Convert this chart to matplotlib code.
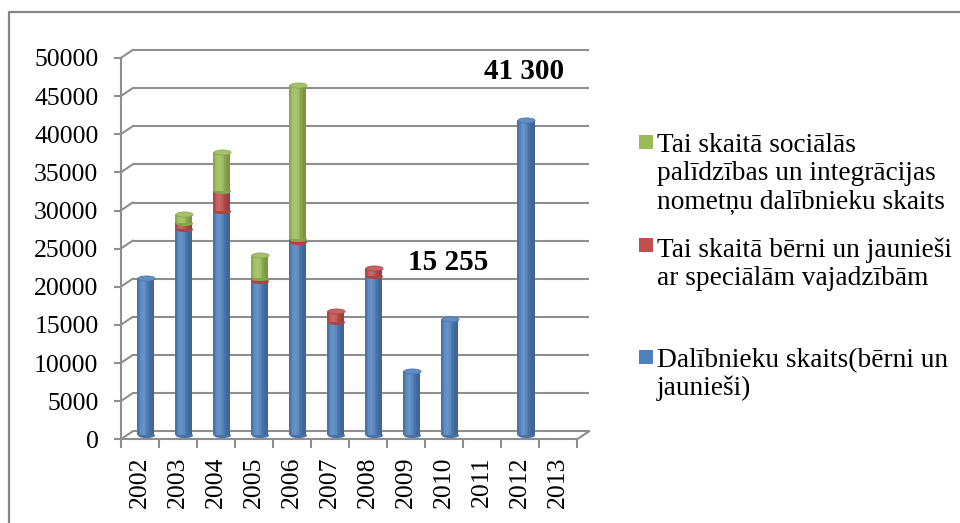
import numpy as np
import matplotlib
matplotlib.use("Agg")
import matplotlib.pyplot as plt
from matplotlib.path import Path
from matplotlib.lines import Line2D
from matplotlib.patches import Rectangle
from matplotlib.colors import to_rgb

plt.rcParams['font.family'] = ['Liberation Serif', 'DejaVu Serif']

# ---------------- data ----------------
years = ['2002', '2003', '2004', '2005', '2006', '2007', '2008', '2009',
         '2010', '2011', '2012', '2013']
participants = [20600, 27100, 29400, 20200, 25400, 14900, 20900, 8400,
                15255, 0, 41300, 0]
special_needs = [0, 800, 2700, 400, 400, 1400, 1100, 0, 0, 0, 0, 0]
social_camps = [0, 1100, 5100, 3100, 20200, 0, 0, 0, 0, 0, 0, 0]
series_labels = ['Dalībnieku skaits(bērni un\njaunieši)',
                 'Tai skaitā bērni un jaunieši\nar speciālām vajadzībām',
                 'Tai skaitā sociālās\npalīdzības un integrācijas\nnometņu dalībnieku skaits']
series_colors = ['#4F81BD', '#C0504D', '#9BBB59']
yticks = list(range(0, 50001, 5000))
annotated = [8, 10]

# ---------------- figure ----------------
W, H = 960, 523
DPI = 100
fig = plt.figure(figsize=(W / DPI, H / DPI), dpi=DPI)
fig.patch.set_facecolor('white')

def fx(x):
    return x / W

def fy(y):
    return 1 - y / H

ax_l, ax_r, ax_t, ax_b = 120.7, 577.0, 58.0, 439.3
ax = fig.add_axes([fx(ax_l), fy(ax_b), (ax_r - ax_l) / W, (ax_b - ax_t) / H])
ax.set_xlim(-0.5, 11.5)
ax.set_ylim(0, 50000)
ax.patch.set_visible(False)

GRAY = '#8E8E8E'

# 3D depth offsets (pixels -> data)
px_per_x = (ax_r - ax_l) / 12.0
px_per_y = (ax_b - ax_t) / 50000.0
depth_dx = 12 / px_per_x
depth_dy = 8 / px_per_y

# back wall gridlines + diagonal stubs
for v in yticks:
    ax.plot([-0.5 + depth_dx, 11.5 + depth_dx], [v + depth_dy, v + depth_dy],
            color=GRAY, lw=1.5, clip_on=False, zorder=1, solid_capstyle='butt')
    ax.plot([-0.5, -0.5 + depth_dx], [v, v + depth_dy],
            color=GRAY, lw=1.5, clip_on=False, zorder=1)
# floor right diagonal
ax.plot([11.5, 11.5 + depth_dx], [0, depth_dy], color=GRAY, lw=1.5,
        clip_on=False, zorder=1)

# spines
for s in ['top', 'right']:
    ax.spines[s].set_visible(False)
for s in ['left', 'bottom']:
    ax.spines[s].set_color(GRAY)
    ax.spines[s].set_linewidth(1.5)

ax.set_yticks(yticks)
ax.set_yticklabels([str(v) for v in yticks])
ax.tick_params(axis='y', length=5, width=1.5, color=GRAY, pad=11, labelsize=18.5)
ax.set_xticks(range(12))
ax.set_xticklabels(years, rotation=90)
ax.tick_params(axis='x', which='major', length=0, pad=12.5, labelsize=18.5)
ax.set_xticks(np.arange(-0.5, 12.0, 1.0), minor=True)
ax.tick_params(axis='x', which='minor', length=6.5, width=1.5, color=GRAY)

# ---------------- cylinders ----------------
bar_w = 0.45
bx_off = depth_dx / 2
by_off = depth_dy / 2
nstrip = 11
cap_ms = bar_w * px_per_x * 72 / DPI

theta = np.linspace(0, 2 * np.pi, 60)
ellipse = Path(np.column_stack([np.cos(theta), 0.3 * np.sin(theta)]), closed=True)


def shade(color, f):
    c = np.array(to_rgb(color))
    if f >= 1:
        return tuple(c + (1 - c) * (f - 1))
    return tuple(c * f)


series = [participants, special_needs, social_camps]
x = np.arange(12)
bottoms = np.zeros(12)
strip_edges = np.linspace(-bar_w / 2, bar_w / 2, nstrip + 1)
strip_w = bar_w / nstrip
for k, (vals, col) in enumerate(zip(series, series_colors)):
    vals = np.array(vals, dtype=float)
    m = vals > 0
    base_z = 10 + 2 * k
    for j in range(nstrip):
        t = (strip_edges[j] + strip_w / 2) / (bar_w / 2)
        f = 0.78 + 0.36 * np.exp(-((t + 0.3) / 0.6) ** 2)
        ax.bar(x[m] + bx_off + strip_edges[j] + strip_w / 2, vals[m], strip_w,
               bottom=bottoms[m] + by_off, color=shade(col, f), linewidth=0,
               zorder=base_z, clip_on=False)
    # bottom ellipse of this segment (bulging into the one below)
    ax.plot(x[m] + bx_off, bottoms[m] + by_off, linestyle='none', marker=ellipse,
            markersize=cap_ms, mfc=shade(col, 0.88), mec='none',
            zorder=base_z - 1, clip_on=False)
    bottoms = bottoms + vals

# top caps
tops = bottoms
top_col = []
for i in range(12):
    c = None
    for vals, col in zip(series, series_colors):
        if vals[i] > 0:
            c = col
    top_col.append(c)
for i in range(12):
    if top_col[i] is not None:
        ax.plot([x[i] + bx_off], [tops[i] + by_off], linestyle='none', marker=ellipse,
                markersize=cap_ms, mfc=shade(top_col[i], 1.1),
                mec=shade(top_col[i], 0.88), mew=0.5, zorder=40, clip_on=False)

# annotations
for i in annotated:
    txt = f"{participants[i]:,}".replace(',', ' ')
    ax.text(x[i] + 0.1, participants[i] + 6000 + (0 if i == 10 else 1000), txt,
            ha='center', va='baseline', fontweight='bold',
            fontsize=21, zorder=50, clip_on=False)

# ---------------- legend ----------------
leg_first_baselines = [366.7, 256.7, 151.7]
leg_square_centers = [356.5, 245.0, 142.0]
line_step = 28.3
for lab, col, b0, sc in zip(series_labels, series_colors, leg_first_baselines,
                            leg_square_centers):
    fig.patches.append(Rectangle((fx(639), fy(sc + 7)), 14 / W, 14 / H,
                                 transform=fig.transFigure, facecolor=col,
                                 edgecolor='none'))
    for li, line in enumerate(lab.split('\n')):
        fig.text(fx(657), fy(b0 + li * line_step), line, ha='left', va='baseline',
                 fontsize=19.7, color='black')

# outer frame (partially cut off)
fig.lines.append(Line2D([fx(9), fx(9), fx(960)], [fy(523), fy(12), fy(12)],
                        transform=fig.transFigure, color='#868686', lw=1.6))

fig.savefig('out.png', dpi=DPI, facecolor='white')
